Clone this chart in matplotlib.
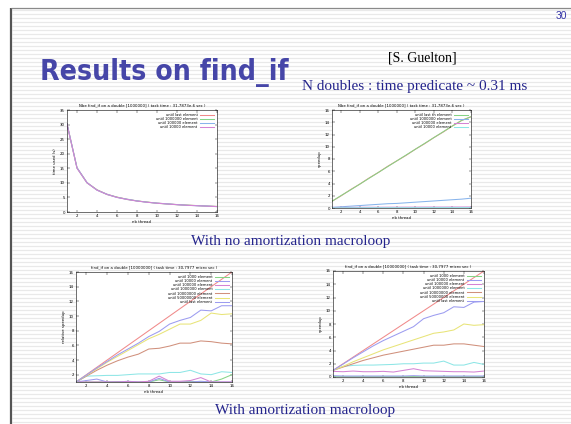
import numpy as np
import matplotlib
matplotlib.use("Agg")
import matplotlib.pyplot as plt
from matplotlib.patches import Rectangle

W, H = 571, 424

# ---------------- data ----------------
threads = list(range(1, 17))
xticks = [2, 4, 6, 8, 10, 12, 14, 16]

# Chart 1: time used (s), no amortization
c1_labels = ["until last element", "until 1000000 element",
             "until 100000 element", "until 10000 element"]
c1_last = [30.3, 15.2, 10.1, 7.6, 6.1, 5.1, 4.4, 3.8, 3.4, 3.05, 2.8, 2.55, 2.35, 2.2, 2.05, 1.9]
c1_1e6 = [30.2, 15.1, 10.0, 7.6, 6.0, 5.1, 4.3, 3.8, 3.4, 3.0, 2.75, 2.5, 2.35, 2.2, 2.0, 1.9]
c1_1e5 = [30.3, 15.2, 10.1, 7.5, 6.1, 5.0, 4.4, 3.8, 3.35, 3.05, 2.8, 2.55, 2.3, 2.15, 2.05, 1.85]
c1_1e4 = [30.1, 15.0, 10.0, 7.5, 6.0, 5.0, 4.3, 3.75, 3.35, 3.0, 2.75, 2.5, 2.3, 2.15, 2.0, 1.85]
c1_yticks = [0, 5, 10, 15, 20, 25, 30, 35]

# Chart 2: speedup, no amortization
c2_labels = ["until last th element", "until 1000000 element",
             "until 100000 element", "until 10000 element"]
c2_ideal = [1.1, 2.0, 3.0, 3.9, 4.9, 5.8, 6.8, 7.7, 8.6, 9.6, 10.5, 11.5, 12.4, 13.4, 14.3, 14.9]
c2_last = [1.1, 2.05, 2.95, 3.9, 4.85, 5.8, 6.75, 7.7, 8.65, 9.6, 10.55, 11.5, 12.45, 13.4, 14.3, 14.9]
c2_1e6 = [0.1, 0.2, 0.3, 0.4, 0.5, 0.6, 0.7, 0.75, 0.85, 0.95, 1.05, 1.15, 1.25, 1.35, 1.45, 1.6]
c2_1e5 = [0.1, 0.1, 0.1, 0.12, 0.12, 0.12, 0.13, 0.13, 0.14, 0.14, 0.15, 0.15, 0.15, 0.16, 0.16, 0.17]
c2_1e4 = [0.03, 0.03, 0.03, 0.03, 0.04, 0.04, 0.04, 0.04, 0.04, 0.04, 0.04, 0.05, 0.05, 0.05, 0.05, 0.05]
c2_yticks = [0, 2, 4, 6, 8, 10, 12, 14, 16]

# Charts 3 and 4: with amortization macroloop
am_labels = ["until 1000 element", "until 10000 element", "until 100000 element",
             "until 1000000 element", "until 10000000 element",
             "until 50000000 element", "until last element"]
ideal = [1, 2, 3, 4, 5, 6, 7, 8, 9, 10, 11, 12, 13, 14, 15, 16]

c3_1e3 = [1, 1.0, 1.0, 1.0, 1.05, 1.0, 1.0, 1.0, 1.3, 1.0, 1.0, 1.1, 1.0, 1.0, 1.4, 2.0]
c3_1e4 = [1, 1.2, 1.4, 1.0, 1.0, 1.1, 1.0, 1.0, 1.5, 1.0, 1.0, 1.0, 1.1, 1.0, 1.0, 1.0]
c3_1e5 = [1, 1.0, 1.0, 1.0, 1.0, 1.05, 1.0, 1.1, 1.8, 1.1, 1.1, 1.2, 1.6, 1.0, 1.0, 1.0]
c3_1e6 = [1, 1.8, 1.85, 1.9, 1.9, 2.0, 2.1, 2.1, 2.1, 2.3, 2.3, 2.6, 2.1, 2.0, 2.4, 2.3]
c3_1e7 = [1, 1.8, 2.6, 3.3, 3.9, 4.4, 4.8, 5.5, 5.6, 5.9, 6.3, 6.3, 6.6, 6.5, 6.3, 6.2]
c3_5e7 = [1, 1.9, 2.8, 3.7, 4.5, 5.3, 6.1, 6.9, 7.5, 8.2, 8.9, 8.9, 9.4, 10.4, 10.2, 10.3]
c3_last = [1, 1.95, 2.9, 3.8, 4.7, 5.5, 6.3, 7.2, 7.9, 8.9, 9.4, 9.8, 10.8, 10.7, 11.4, 11.4]
c3_yticks = [2, 4, 6, 8, 10, 12, 14, 16]

c4_1e3 = [0.05, 0.05, 0.05, 0.05, 0.05, 0.05, 0.05, 0.05, 0.06, 0.05, 0.05, 0.05, 0.05, 0.05, 0.05, 0.05]
c4_1e4 = [0.2, 0.15, 0.15, 0.15, 0.15, 0.15, 0.15, 0.15, 0.2, 0.15, 0.15, 0.15, 0.15, 0.15, 0.15, 0.15]
c4_1e5 = [0.85, 0.8, 0.9, 0.8, 0.8, 0.85, 0.75, 1.0, 1.25, 0.95, 0.9, 0.85, 0.8, 0.8, 0.75, 0.9]
c4_1e6 = [1, 1.6, 1.75, 1.8, 1.8, 1.85, 1.9, 2.0, 2.0, 2.1, 2.1, 2.4, 1.8, 1.8, 2.2, 1.9]
c4_1e7 = [1, 1.5, 2.0, 2.5, 2.9, 3.3, 3.6, 3.9, 4.2, 4.5, 4.8, 4.8, 5.0, 5.0, 4.8, 4.6]
c4_5e7 = [1, 1.6, 2.3, 2.9, 3.5, 4.1, 4.6, 5.1, 5.6, 6.1, 6.6, 6.8, 7.1, 8.0, 7.8, 7.9]
c4_last = [1, 1.95, 2.9, 3.8, 4.7, 5.5, 6.2, 6.9, 7.6, 8.8, 9.3, 9.7, 10.6, 10.5, 11.3, 11.4]
c4_yticks = [0, 2, 4, 6, 8, 10, 12, 14, 16]

# ---------------- styles ----------------
RED = "#f08a8a"
GREEN = "#86d486"
BLUE = "#88b4ec"
MAGENTA = "#d484d4"
CYAN = "#8ee6e6"
BROWN = "#d0907c"
YELLOW = "#e8e478"
PURPLE = "#9c9cf0"
SMALL = 2.8

fig = plt.figure(figsize=(W / 100, H / 100), dpi=100)
fig.patch.set_facecolor("white")

# background (slide) in pixel coordinates
bg = fig.add_axes([0, 0, 1, 1], zorder=-10)
bg.set_xlim(0, W)
bg.set_ylim(H, 0)
bg.axis("off")
stripe_y = np.arange(10, H, 4)
bg.hlines(stripe_y, 12, W, color="#e9e9e9", lw=0.9)
bg.plot([11, 11], [8, H], color="#555555", lw=1.6, solid_capstyle="butt")
bg.plot([11, W], [8, 8], color="#8a8a8a", lw=0.9, solid_capstyle="butt")

for (l, t, r, b) in [(58, 100, 222, 219), (320, 100, 475, 213),
                     (61, 262, 237, 393), (318, 262, 488, 388)]:
    bg.add_patch(Rectangle((l, t), r - l, b - t, facecolor="white", edgecolor="none"))


def axbox(l, t, r, b):
    return [l / W, 1 - b / H, (r - l) / W, (b - t) / H]


def style(ax, title, ylabel, yticks, ylim):
    ax.set_xlim(1, 16)
    ax.set_ylim(*ylim)
    ax.set_xticks(xticks)
    ax.set_yticks(yticks)
    ax.tick_params(direction="in", top=True, right=True, length=1.8, width=0.3,
                   labelsize=SMALL, pad=1.5)
    for s in ax.spines.values():
        s.set_linewidth(0.4)
    ax.set_title(title, fontsize=SMALL, pad=2.5)
    ax.set_ylabel(ylabel, fontsize=SMALL, labelpad=2)
    ax.set_xlabel("nb thread", fontsize=SMALL, labelpad=1.5)
    ax.legend(loc="upper right", fontsize=2.6, frameon=False, markerfirst=False,
              handlelength=4, handletextpad=0.6, labelspacing=0.05, borderaxespad=0.4)


LW = 0.75

# Chart 1
ax1 = fig.add_axes(axbox(67, 110, 217, 212))
for ys, c, lab in [(c1_last, RED, c1_labels[0]), (c1_1e6, GREEN, c1_labels[1]),
                   (c1_1e5, BLUE, c1_labels[2]), (c1_1e4, MAGENTA, c1_labels[3])]:
    ax1.plot(threads, ys, color=c, lw=LW, label=lab)
style(ax1, "Nbe find_if on a double [1000000] ( task time : 31,7873e-6 sec )",
      "time used (s)", c1_yticks, (0, 35))

# Chart 2
ax2 = fig.add_axes(axbox(332, 110, 471, 208))
ax2.plot(threads, c2_ideal, color=RED, lw=LW)
for ys, c, lab in [(c2_last, GREEN, c2_labels[0]), (c2_1e6, BLUE, c2_labels[1]),
                   (c2_1e5, MAGENTA, c2_labels[2]), (c2_1e4, CYAN, c2_labels[3])]:
    ax2.plot(threads, ys, color=c, lw=LW, label=lab)
style(ax2, "Nbe find_if on a double [1000000] ( task time : 31,7873e-6 sec )",
      "speedup", c2_yticks, (0, 16))

# Chart 3
ax3 = fig.add_axes(axbox(76, 272, 232, 382))
ax3.plot(threads, ideal, color=RED, lw=LW)
for ys, c, lab in zip([c3_1e3, c3_1e4, c3_1e5, c3_1e6, c3_1e7, c3_5e7, c3_last],
                      [GREEN, PURPLE, MAGENTA, CYAN, BROWN, YELLOW, PURPLE], am_labels):
    ax3.plot(threads, ys, color=c, lw=LW, label=lab)
style(ax3, "find_if on a double [10000000] ( task time : 30,7977 micro sec )",
      "relative speedup", c3_yticks, (1, 16))

# Chart 4
ax4 = fig.add_axes(axbox(333, 271, 484, 377))
ax4.plot(threads, ideal, color=RED, lw=LW)
for ys, c, lab in zip([c4_1e3, c4_1e4, c4_1e5, c4_1e6, c4_1e7, c4_5e7, c4_last],
                      [GREEN, PURPLE, MAGENTA, CYAN, BROWN, YELLOW, PURPLE], am_labels):
    ax4.plot(threads, ys, color=c, lw=LW, label=lab)
style(ax4, "find_if on a double [10000000] ( task time : 30,7977 micro sec )",
      "speedup", c4_yticks, (0, 16))

# ---------------- slide texts ----------------
def fx(x):
    return x / W


def fy(y):
    return 1 - y / H


fig.text(fx(40), fy(80), "Results on find_if", fontsize=20.3, fontweight="bold",
         fontstretch="condensed", family="DejaVu Sans", color="#4646a8",
         ha="left", va="baseline")
fig.text(fx(422), fy(62), "[S. Guelton]", fontsize=10, family="Liberation Serif",
         color="black", ha="center", va="baseline")
fig.text(fx(302), fy(90), "N doubles : time predicate ~ 0.31 ms", fontsize=11,
         family="Liberation Serif", color="#24248c", ha="left", va="baseline")
fig.text(fx(290.5), fy(245), "With no amortization macroloop", fontsize=11,
         family="Liberation Serif", color="#24248c", ha="center", va="baseline")
fig.text(fx(305), fy(414), "With amortization macroloop", fontsize=11,
         family="Liberation Serif", color="#24248c", ha="center", va="baseline")
fig.text(fx(561), fy(16), "30", fontsize=7.5, family=["Liberation Sans", "DejaVu Sans"],
         color="#3636a8", ha="center", va="center")

fig.savefig("out.png", dpi=100, facecolor="white")
